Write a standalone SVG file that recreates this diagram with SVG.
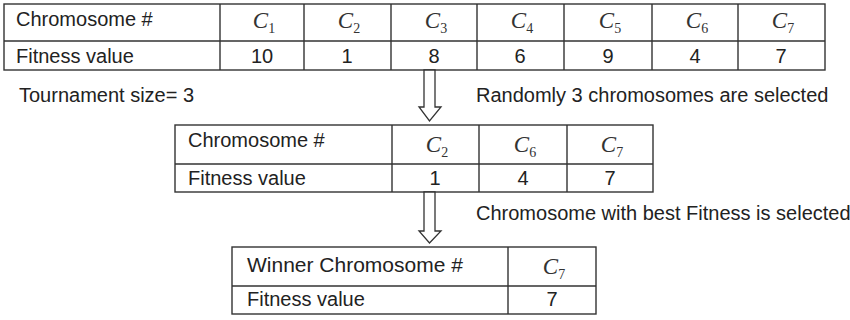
<svg xmlns="http://www.w3.org/2000/svg" width="850" height="320" viewBox="0 0 850 320">
<style>
.bg{fill:#ffffff}
.cell{fill:none;stroke:#333;stroke-width:1.4}
.lbl{font-family:"Liberation Sans",Arial,sans-serif;font-size:20px;fill:#222}
.num{font-family:"Liberation Sans",Arial,sans-serif;font-size:20px;fill:#222;text-anchor:middle}
.cv{font-family:"Liberation Serif","Times New Roman",serif;font-style:italic;font-size:23px;fill:#333;text-anchor:middle}
.sub{font-size:14px;font-style:normal}
.arrow{fill:#fff;stroke:#333;stroke-width:1.3;stroke-linejoin:miter}
</style>
<rect class="bg" width="850" height="320"/>

<g id="table-population">
  <rect class="cell" x="4" y="4" width="821" height="66"/>
  <path class="cell" d="M4 41H825M220 4V70M304 4V70M391 4V70M477 4V70M564 4V70M652 4V70M738 4V70"/>
  <text class="lbl" x="16" y="26">Chromosome #</text>
  <text class="lbl" x="16" y="63">Fitness value</text>
  <text class="cv" x="264" y="28">C<tspan class="sub" dy="5">1</tspan></text>
  <text class="cv" x="349" y="28">C<tspan class="sub" dy="5">2</tspan></text>
  <text class="cv" x="436" y="28">C<tspan class="sub" dy="5">3</tspan></text>
  <text class="cv" x="522" y="28">C<tspan class="sub" dy="5">4</tspan></text>
  <text class="cv" x="610" y="28">C<tspan class="sub" dy="5">5</tspan></text>
  <text class="cv" x="697" y="28">C<tspan class="sub" dy="5">6</tspan></text>
  <text class="cv" x="783" y="28">C<tspan class="sub" dy="5">7</tspan></text>
  <text class="num" x="262" y="63">10</text>
  <text class="num" x="347" y="63">1</text>
  <text class="num" x="434" y="63">8</text>
  <text class="num" x="520" y="63">6</text>
  <text class="num" x="608" y="63">9</text>
  <text class="num" x="695" y="63">4</text>
  <text class="num" x="781" y="63">7</text>
</g>

<g id="label-tournament">
  <text class="lbl" x="19" y="102">Tournament size= 3</text>
</g>
<g id="label-random">
  <text class="lbl" x="476" y="102">Randomly 3 chromosomes are selected</text>
</g>

<g id="table-selected">
  <rect class="cell" x="175" y="125" width="478" height="67"/>
  <path class="cell" d="M175 164H653M392 125V192M479 125V192M567 125V192"/>
  <text class="lbl" x="188" y="147">Chromosome #</text>
  <text class="lbl" x="188" y="185">Fitness value</text>
  <text class="cv" x="437" y="152">C<tspan class="sub" dy="5">2</tspan></text>
  <text class="cv" x="525" y="152">C<tspan class="sub" dy="5">6</tspan></text>
  <text class="cv" x="612" y="152">C<tspan class="sub" dy="5">7</tspan></text>
  <text class="num" x="435" y="185">1</text>
  <text class="num" x="523" y="185">4</text>
  <text class="num" x="610" y="185">7</text>
</g>

<g id="label-best">
  <text class="lbl" x="476" y="220">Chromosome with best Fitness is selected</text>
</g>

<g id="table-winner">
  <rect class="cell" x="232" y="247" width="364" height="67"/>
  <path class="cell" d="M232 286H596M508 247V314"/>
  <text class="lbl" x="247" y="272" style="font-size:21px">Winner Chromosome #</text>
  <text class="lbl" x="247" y="306">Fitness value</text>
  <text class="cv" x="554" y="274">C<tspan class="sub" dy="5">7</tspan></text>
  <text class="num" x="552" y="306">7</text>
</g>

<g id="connectors">
  <path class="arrow" d="M424 70V107H419L429.5 121L441 107H435V70Z"/>
  <path class="arrow" d="M424 192V231H419L429.5 243L441 231H435V192Z"/>
</g>
</svg>
